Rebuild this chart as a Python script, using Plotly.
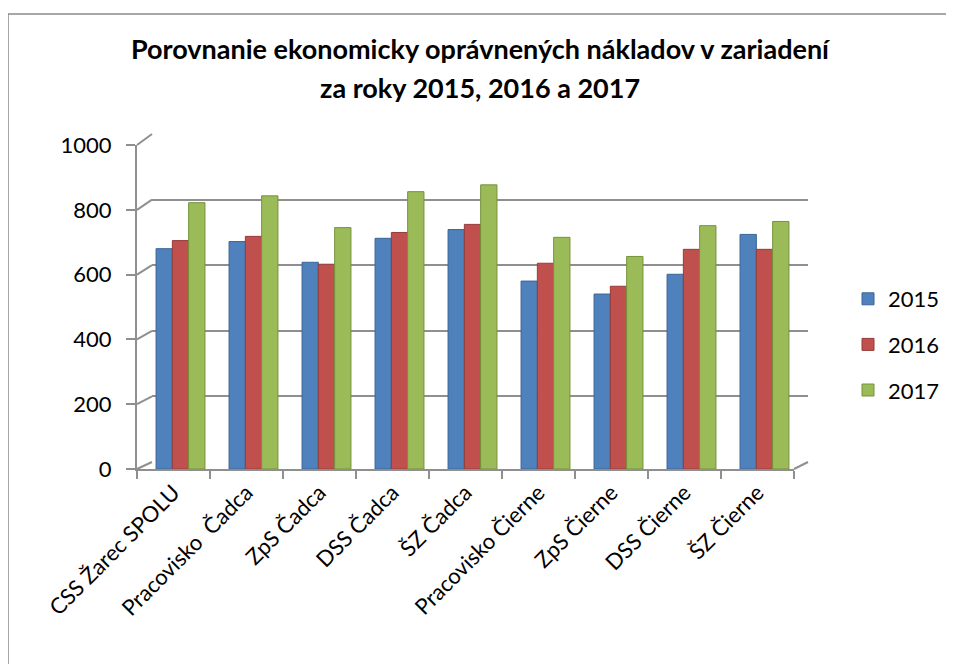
import plotly.graph_objects as go

categories = ["CSS Žarec SPOLU", "Pracovisko  Čadca", "ZpS Čadca", "DSS Čadca", "ŠZ Čadca",
              "Pracovisko Čierne", "ZpS Čierne", "DSS Čierne", "ŠZ Čierne"]
v2015 = [680, 702, 638, 712, 739, 580, 540, 601, 724]
v2016 = [705, 718, 632, 730, 755, 635, 564, 678, 678]
v2017 = [822, 843, 745, 856, 877, 715, 656, 751, 764]
series_names = ["2015", "2016", "2017"]
y_ticks = [0, 200, 400, 600, 800, 1000]

W, H = 954, 664
OFF = 8  # page body margin
def px(x):
    return (x - OFF) / W
def py(y):
    return 1 - (y - OFF) / H

FONT = "Lato"
GRID = "#8f8f8f"
colors = ["#4F81BD", "#C0504D", "#9BBB59"]
edges = ["#3a6596", "#963c39", "#76923c"]

# pixel geometry of the "3D" box
front_x = (137, 794)
front_y = (469, 145)
back_x = (152, 808)
back_y = (462, 134)
bar_x = (144, 801)

fig = go.Figure()

# back wall (grid only)
fig.add_trace(go.Scatter(x=[0, 1], y=[None, None], xaxis="x", yaxis="y",
                         showlegend=False, hoverinfo="skip"))

for name, vals, c, e in zip(series_names, [v2015, v2016, v2017], colors, edges):
    fig.add_trace(go.Bar(x=categories, y=vals, name=name, xaxis="x2", yaxis="y2",
                         marker=dict(color=c, line=dict(color=e, width=1)),
                         legendgroup=name))

# front category axis carrier
fig.add_trace(go.Scatter(x=categories, y=[None] * len(categories), xaxis="x3", yaxis="y2",
                         showlegend=False, hoverinfo="skip"))

shapes = []
# chart border
shapes.append(dict(type="rect", xref="paper", yref="paper", x0=px(8), y0=-0.05, x1=1.05, y1=py(14),
                   line=dict(color="#8a8a8a", width=1.5), layer="below"))
# diagonals from front ticks to back wall grid
for v in y_ticks:
    yf = front_y[0] + (front_y[1] - front_y[0]) * v / 1000
    yb = back_y[0] + (back_y[1] - back_y[0]) * v / 1000
    shapes.append(dict(type="line", xref="paper", yref="paper",
                       x0=px(front_x[0]), y0=py(yf), x1=px(back_x[0]), y1=py(yb),
                       line=dict(color=GRID, width=2), layer="below"))
# floor right diagonal
shapes.append(dict(type="line", xref="paper", yref="paper",
                   x0=px(front_x[1]), y0=py(front_y[0]), x1=px(back_x[1]), y1=py(back_y[0]),
                   line=dict(color=GRID, width=2), layer="below"))

fig.update_layout(
    width=W, height=H,
    margin=dict(l=0, r=0, t=0, b=0, autoexpand=False),
    paper_bgcolor="white", plot_bgcolor="rgba(0,0,0,0)",
    font=dict(family=FONT, size=22, color="black"),
    title=dict(text="<b>Porovnanie ekonomicky oprávnených nákladov v zariadení</b>",
               x=px(480), xanchor="center", y=py(50), yanchor="middle",
               font=dict(family=FONT, size=27, color="black")),
    annotations=[dict(text="<b>za roky 2015, 2016 a 2017</b>", xref="paper", yref="paper",
                      x=px(480), y=py(87), xanchor="center", yanchor="middle", showarrow=False,
                      font=dict(family=FONT, size=27, color="black"))],
    barmode="group", bargap=0.33, bargroupgap=0,
    xaxis=dict(domain=[px(back_x[0]), px(back_x[1])], range=[0, 1], anchor="y",
               showgrid=False, zeroline=False, showticklabels=False, ticks="", showline=False),
    yaxis=dict(domain=[py(back_y[0]), py(back_y[1])], range=[0, 1000], anchor="x",
               tickvals=y_ticks, showgrid=True, gridcolor=GRID, gridwidth=2,
               zeroline=False, showticklabels=False, ticks="", showline=False),
    xaxis2=dict(domain=[px(bar_x[0]), px(bar_x[1])], anchor="y2", type="category",
                categoryorder="array", categoryarray=categories, range=[-0.5, 8.5],
                showgrid=False, zeroline=False, showticklabels=False, ticks="", showline=False),
    yaxis2=dict(domain=[py(front_y[0]), py(front_y[1])], range=[0, 1000], anchor="x3",
                tickvals=y_ticks, showgrid=False, zeroline=False,
                showline=True, linecolor=GRID, linewidth=2,
                ticks="outside", ticklen=9, tickwidth=2, tickcolor=GRID,
                ticklabelstandoff=10, tickfont=dict(size=22)),
    xaxis3=dict(domain=[px(front_x[0]), px(front_x[1])], anchor="y2", type="category",
                categoryorder="array", categoryarray=categories, range=[-0.5, 8.5],
                showgrid=False, zeroline=False, showline=True, linecolor=GRID, linewidth=2,
                ticks="outside", tickson="boundaries", ticklen=8, tickwidth=2, tickcolor=GRID,
                tickangle=-45, tickfont=dict(size=22)),
    legend=dict(x=px(848), y=py(278), xanchor="left", yanchor="top",
                font=dict(family=FONT, size=22), tracegroupgap=14,
                bgcolor="rgba(0,0,0,0)"),
    shapes=shapes,
)

fig.write_html("out.html")
